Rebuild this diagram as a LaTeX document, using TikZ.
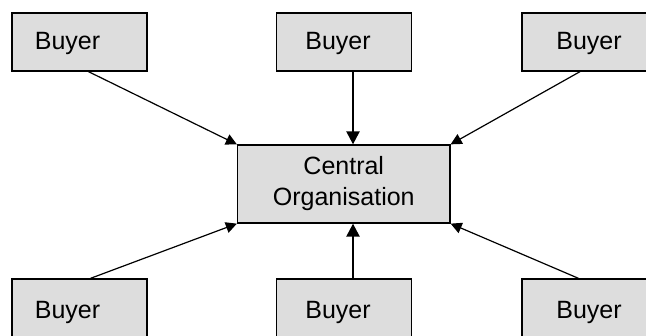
\documentclass[tikz,border=0pt]{standalone}
\usepackage{fontspec}
\setmainfont{Liberation Sans}
\usetikzlibrary{arrows.meta,calc}
\definecolor{boxfill}{RGB}{221,221,221}
\begin{document}
\begin{tikzpicture}[x=0.5pt,y=-0.5pt,
  box/.style={draw=black,fill=boxfill,line width=0.65pt,inner sep=0pt,minimum width=67.5pt,minimum height=29pt},
  cbox/.style={draw=black,fill=boxfill,line width=0.65pt,inner sep=0pt,minimum width=106.25pt,minimum height=39pt,align=center,font=\fontsize{12.5}{15.5}\selectfont},
  lbl/.style={anchor=base,inner sep=0pt,font=\fontsize{12.5}{15}\selectfont},
  thin/.style={line width=0.6pt,-{Triangle[length=5.5pt,width=5.5pt]}},
  thick/.style={line width=1.2pt,-{Triangle[length=6.5pt,width=6.5pt]}}]
\useasboundingbox (0,0) rectangle (646,336);
\fill[white] (0,0) rectangle (646,336);
\node[box] (b1) at (79.5,42) {};
\node[box] (b2) at (344,42) {};
\node[box] (b3) at (589.5,42) {};
\node[box] (b4) at (79.5,308) {};
\node[box] (b5) at (344,308) {};
\node[box] (b6) at (589.5,308) {};
\node[cbox] (c) at (343.75,184) {Central\\Organisation};
\node[lbl] (t1) at (67.5,50) {Buyer};
\node[lbl] (t2) at (338,50) {Buyer};
\node[lbl] (t3) at (589,50) {Buyer};
\node[lbl] (t4) at (67.5,318) {Buyer};
\node[lbl] (t5) at (338,318) {Buyer};
\node[lbl] (t6) at (589,318) {Buyer};
\draw[thin] ($(b1.south)+(9,0)$) -- (c.north west);
\draw[thin] ($(b3.south)+(-9.5,0)$) -- (c.north east);
\draw[thin] ($(b4.north)+(11,0)$) -- (c.south west);
\draw[thin] ($(b6.north)+(-11,0)$) -- (c.south east);
\draw[thick] ($(b2.south)+(9,0)$) -- ($(c.north)+(9.25,0)$);
\draw[thick] ($(b5.north)+(9,0)$) -- ($(c.south)+(9.25,0)$);
\end{tikzpicture}
\end{document}
